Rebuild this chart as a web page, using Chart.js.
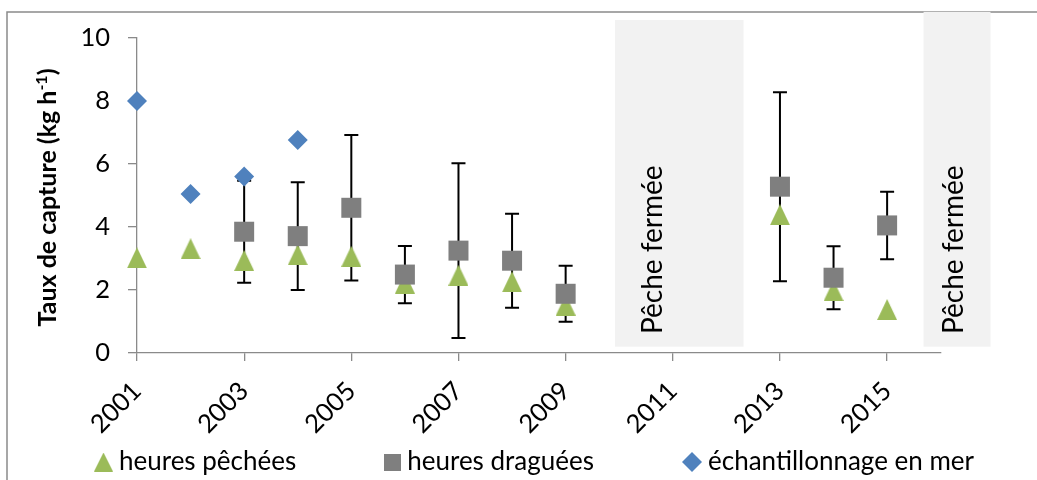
<!DOCTYPE html>
<html lang="fr">
<head>
<meta charset="utf-8">
<title>Taux de capture</title>
<script src="https://cdn.jsdelivr.net/npm/chart.js@4.4.1/dist/chart.umd.min.js"></script>
<style>
  html, body { margin: 0; padding: 0; background: #ffffff; }
  canvas { display: block; }
</style>
</head>
<body>
<canvas id="chart" width="1037" height="480"></canvas>
<script>
// Années de la série
const annees = [2001, 2002, 2003, 2004, 2005, 2006, 2007, 2008, 2009, 2010, 2011, 2012, 2013, 2014, 2015];

// Taux de capture (kg h-1)
const heuresPechees     = [3.02, 3.31, 2.94, 3.12, 3.07, 2.22, 2.47, 2.26, 1.52, null, null, null, 4.39, 1.98, 1.38];
const heuresDraguees    = [null, null, 3.85, 3.71, 4.61, 2.49, 3.25, 2.93, 1.88, null, null, null, 5.28, 2.39, 4.05];
const erreurDraguees    = [null, null, 1.62, 1.71, 2.31, 0.91, 2.77, 1.49, 0.89, null, null, null, 3.00, 1.00, 1.07];
const echantillonnageMer = [8.00, 5.05, 5.60, 6.76, null, null, null, null, null, null, null, null, null, null, null];

// Graduations
const anneesAffichees = [2001, 2003, 2005, 2007, 2009, 2011, 2013, 2015];
const graduationsY = [0, 2, 4, 6, 8, 10];

const FONT = 'Lato';
const GRIS_AXE = '#8a8a8a';

function versPoints(valeurs) {
  return annees.map((a, i) => ({ x: a, y: valeurs[i] }));
}

// Marqueurs dessinés sur de petits canevas
function triangle(w, h, couleur) {
  const c = document.createElement('canvas');
  c.width = w; c.height = h;
  const g = c.getContext('2d');
  g.fillStyle = couleur;
  g.beginPath();
  g.moveTo(w / 2, 0);
  g.lineTo(w, h);
  g.lineTo(0, h);
  g.closePath();
  g.fill();
  return c;
}
function carre(w, h, couleur) {
  const c = document.createElement('canvas');
  c.width = w; c.height = h;
  const g = c.getContext('2d');
  g.fillStyle = couleur;
  g.fillRect(0, 0, w, h);
  return c;
}
function losange(w, h, couleur) {
  const c = document.createElement('canvas');
  c.width = w; c.height = h;
  const g = c.getContext('2d');
  g.fillStyle = couleur;
  g.beginPath();
  g.moveTo(w / 2, 0);
  g.lineTo(w, h / 2);
  g.lineTo(w / 2, h);
  g.lineTo(0, h / 2);
  g.closePath();
  g.fill();
  return c;
}

const VERT = '#9BBB59', GRIS = '#7F7F7F', BLEU = '#4F81BD';
const triPoint = triangle(20, 21, VERT);

// Cadre extérieur
const cadre = {
  id: 'cadre',
  beforeDraw(chart) {
    const ctx = chart.ctx;
    ctx.save();
    ctx.strokeStyle = GRIS_AXE;
    ctx.lineWidth = 1.5;
    ctx.strokeRect(7, 12, 1200, 700);
    ctx.restore();
  }
};

// Périodes de fermeture de la pêche
const fermetures = {
  id: 'fermetures',
  beforeDatasetsDraw(chart) {
    const { ctx, scales: { x, y } } = chart;
    const zones = [
      { de: 2009.92, a: 2012.32, haut: 10.57, bas: 0.2, texte: 2010.79 },
      { de: 2015.68, a: 2016.93, haut: 10.83, bas: 0.2, texte: 2016.42 }
    ];
    ctx.save();
    zones.forEach(z => {
      const x0 = x.getPixelForValue(z.de), x1 = x.getPixelForValue(z.a);
      const y0 = y.getPixelForValue(z.haut), y1 = y.getPixelForValue(z.bas);
      ctx.fillStyle = '#F2F2F2';
      ctx.fillRect(x0, y0, x1 - x0, y1 - y0);
      ctx.save();
      ctx.translate(x.getPixelForValue(z.texte), y.getPixelForValue(0.6));
      ctx.rotate(-Math.PI / 2);
      ctx.fillStyle = '#000';
      ctx.font = `28px ${FONT}`;
      ctx.textAlign = 'left';
      ctx.textBaseline = 'alphabetic';
      ctx.fillText('Pêche fermée', 0, 0);
      ctx.restore();
    });
    ctx.restore();
  }
};

// Barres d'erreur des heures draguées
const barresErreur = {
  id: 'barresErreur',
  beforeDatasetsDraw(chart) {
    const { ctx, scales: { x, y } } = chart;
    ctx.save();
    ctx.strokeStyle = '#000';
    ctx.lineWidth = 2;
    annees.forEach((a, i) => {
      const v = heuresDraguees[i], e = erreurDraguees[i];
      if (v == null || e == null) return;
      const px = x.getPixelForValue(a);
      const yh = y.getPixelForValue(v + e), yb = y.getPixelForValue(v - e);
      ctx.beginPath();
      ctx.moveTo(px, yh); ctx.lineTo(px, yb);
      ctx.moveTo(px - 7, yh); ctx.lineTo(px + 7, yh);
      ctx.moveTo(px - 7, yb); ctx.lineTo(px + 7, yb);
      ctx.stroke();
    });
    ctx.restore();
  }
};

// Titre de l'axe vertical avec exposant
const titreY = {
  id: 'titreY',
  afterDraw(chart) {
    const ctx = chart.ctx;
    const area = chart.chartArea;
    const debut = 'Taux de capture (kg h', exp = '-1', fin = ')';
    ctx.save();
    ctx.translate(56, (area.top + area.bottom) / 2 + 2);
    ctx.rotate(-Math.PI / 2);
    ctx.fillStyle = '#000';
    ctx.textBaseline = 'alphabetic';
    ctx.font = `bold 25px ${FONT}`;
    const w1 = ctx.measureText(debut).width, w3 = ctx.measureText(fin).width;
    ctx.font = `bold 16px ${FONT}`;
    const w2 = ctx.measureText(exp).width;
    let cx = -(w1 + w2 + w3) / 2;
    ctx.font = `bold 25px ${FONT}`;
    ctx.fillText(debut, cx, 0); cx += w1;
    ctx.font = `bold 16px ${FONT}`;
    ctx.fillText(exp, cx, -9); cx += w2;
    ctx.font = `bold 25px ${FONT}`;
    ctx.fillText(fin, cx, 0);
    ctx.restore();
  }
};

// Légende en bas
const legende = {
  id: 'legende',
  afterDraw(chart) {
    const ctx = chart.ctx;
    const items = chart.data.datasets
      .slice()
      .sort((a, b) => a.rangLegende - b.rangLegende)
      .map(ds => ({ texte: ds.label, marque: ds.marqueLegende }));
    ctx.save();
    ctx.font = `26px ${FONT}`;
    ctx.fillStyle = '#000';
    ctx.textBaseline = 'alphabetic';
    const ecartMarque = 6, ecartItems = 88, base = 470, milieuY = 462;
    const largeurs = items.map(it => it.marque.width + ecartMarque + ctx.measureText(it.texte).width);
    const total = largeurs.reduce((s, w) => s + w, 0) + ecartItems * (items.length - 1);
    let cx = 534 - total / 2;
    items.forEach((it, i) => {
      ctx.drawImage(it.marque, cx, milieuY - it.marque.height / 2);
      ctx.fillText(it.texte, cx + it.marque.width + ecartMarque, base);
      cx += largeurs[i] + ecartItems;
    });
    ctx.restore();
  }
};

new Chart(document.getElementById('chart'), {
  type: 'scatter',
  data: {
    datasets: [
      {
        label: 'heures pêchées',
        data: versPoints(heuresPechees),
        pointStyle: triPoint,
        pointRadius: 10,
        backgroundColor: VERT,
        borderWidth: 0,
        order: 3,
        clip: false,
        rangLegende: 0,
        marqueLegende: triangle(19, 19, VERT)
      },
      {
        label: 'heures draguées',
        data: versPoints(heuresDraguees),
        pointStyle: 'rect',
        pointRadius: 14.142,
        backgroundColor: GRIS,
        borderColor: GRIS,
        borderWidth: 0,
        order: 2,
        clip: false,
        rangLegende: 1,
        marqueLegende: carre(17, 17, GRIS)
      },
      {
        label: 'échantillonnage en mer',
        data: versPoints(echantillonnageMer),
        pointStyle: 'rectRot',
        pointRadius: 10,
        backgroundColor: BLEU,
        borderColor: BLEU,
        borderWidth: 0,
        order: 1,
        clip: false,
        rangLegende: 2,
        marqueLegende: losange(20, 20, BLEU)
      }
    ]
  },
  options: {
    responsive: false,
    animation: false,
    devicePixelRatio: 1,
    events: [],
    layout: { padding: { left: 0, top: 38, right: 96.3, bottom: 0 } },
    plugins: {
      legend: { display: false },
      tooltip: { enabled: false }
    },
    scales: {
      x: {
        type: 'linear',
        min: 2001,
        max: 2016,
        afterBuildTicks: s => { s.ticks = anneesAffichees.map(v => ({ value: v })); },
        afterFit: s => { s.height = 127; },
        ticks: {
          autoSkip: false,
          minRotation: 45,
          maxRotation: 45,
          padding: 15,
          labelOffset: 0,
          color: '#000',
          font: { family: FONT, size: 25.5 },
          callback: v => String(v)
        },
        grid: { drawOnChartArea: false, drawTicks: true, tickLength: 8, color: GRIS_AXE, lineWidth: 1.3 },
        border: { color: GRIS_AXE, width: 1.3 }
      },
      y: {
        min: 0,
        max: 10,
        afterBuildTicks: s => { s.ticks = graduationsY.map(v => ({ value: v })); },
        afterFit: s => { s.width = 137; },
        ticks: {
          padding: 18,
          color: '#000',
          font: { family: FONT, size: 25.5 },
          callback: v => String(v)
        },
        grid: { drawOnChartArea: false, drawTicks: true, tickLength: 9, color: GRIS_AXE, lineWidth: 1.3 },
        border: { color: GRIS_AXE, width: 1.3 }
      }
    }
  },
  plugins: [cadre, fermetures, barresErreur, titreY, legende]
});
</script>
</body>
</html>
